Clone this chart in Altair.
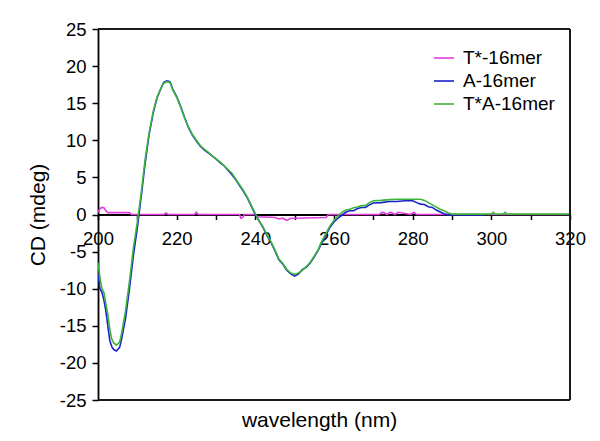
import altair as alt
import pandas as pd

# T*A-16mer (green)
green_nm = [200, 200.5, 201, 201.5, 202, 202.5, 203, 203.5, 204, 204.7, 205.5, 206, 207, 208, 209, 210, 211, 212, 213, 214, 215, 216, 216.7, 217.5, 218.3, 219, 220, 221, 222, 223, 224, 225, 226, 227, 228, 229, 230, 231, 232, 233, 234, 235, 236, 237, 238, 239, 240, 241, 242, 243, 244, 245, 246, 247, 248, 249, 250, 251, 252, 253, 254, 255, 256, 257, 258, 259, 260, 261, 262, 263, 264, 265, 266, 267, 268, 269, 270, 272, 274, 276, 278, 280, 282, 283, 284, 285, 286, 287, 288, 289, 290, 292, 296, 300, 300.5, 301, 303, 303.5, 304, 310, 320]
green_cd = [-6.5, -8.5, -10, -10.5, -12, -13.5, -15.5, -16.8, -17.3, -17.6, -17.2, -16, -13, -9, -4.5, -1, 3, 7.5, 11, 13.8, 15.8, 17, 17.7, 17.9, 17.8, 16.8, 15.8, 14.5, 13, 11.8, 10.8, 10, 9.3, 8.8, 8.4, 7.9, 7.5, 7.1, 6.6, 6.1, 5.6, 4.8, 4.0, 3.2, 2.3, 1.2, 0.1, -0.9, -1.7, -2.8, -3.7, -4.8, -6.0, -6.6, -7.4, -7.9, -8.05, -7.9, -7.5, -7.0, -6.4, -5.6, -4.7, -3.5, -2.5, -1.5, -0.8, -0.2, 0.3, 0.6, 0.7, 0.9, 1.0, 1.2, 1.2, 1.6, 1.85, 1.9, 2.0, 2.05, 2.05, 2.05, 2.05, 1.9, 1.6, 1.3, 1.0, 0.7, 0.5, 0.25, 0.05, 0.05, 0.05, 0.05, 0.3, 0.05, 0.05, 0.3, 0.05, 0.05, 0.05]

# A-16mer (blue)
blue_nm = [200, 200.5, 201, 201.5, 202, 202.5, 203, 203.5, 204, 204.7, 205.5, 206, 207, 208, 209, 210, 211, 212, 213, 214, 215, 216, 216.7, 217.5, 218.3, 219, 220, 221, 222, 223, 224, 225, 226, 227, 228, 229, 230, 231, 232, 233, 234, 235, 236, 237, 238, 239, 240, 241, 242, 243, 244, 245, 246, 247, 248, 249, 250, 251, 252, 253, 254, 255, 256, 257, 258, 259, 260, 261, 262, 263, 264, 265, 266, 267, 268, 269, 270, 272, 274, 276, 278, 280, 281, 282, 283, 284, 285, 286, 287, 288, 289, 292, 298]
blue_cd = [-8, -10, -10.5, -11.5, -13, -15, -17, -17.8, -18.2, -18.4, -17.9, -16.8, -14, -10, -5.5, -1.8, 2.5, 7, 10.8, 13.6, 15.7, 17, 17.8, 18.0, 17.9, 16.9, 15.9, 14.6, 13.1, 11.7, 10.7, 9.9, 9.2, 8.7, 8.3, 7.9, 7.5, 7.0, 6.6, 6.0, 5.4, 4.7, 3.9, 3.1, 2.2, 1.1, 0.0, -0.9, -1.8, -2.9, -3.8, -4.9, -6.1, -6.7, -7.5, -8.0, -8.3, -8.0, -7.4, -7.1, -6.5, -5.7, -4.8, -3.7, -2.7, -1.7, -1.0, -0.5, -0.1, 0.3, 0.5, 0.5, 0.8, 0.95, 0.95, 1.3, 1.55, 1.6, 1.75, 1.75, 1.85, 1.85, 1.6, 1.4, 1.35, 1.05, 0.95, 0.6, 0.35, 0.1, -0.05, -0.05, -0.05]

# T*-16mer (magenta)
mag_nm = [200, 200.5, 201, 201.5, 202, 202.5, 208, 208.5, 216.8, 217.3, 217.8, 224.5, 225, 225.5, 236, 236.3, 236.8, 237.2, 240, 240.5, 245, 246, 247, 248, 249, 250, 258, 258.5, 271.5, 272.3, 273.5, 274.3, 275.5, 276.3, 279.5, 280.3, 281, 320]
mag_cd = [0.3, 0.8, 0.95, 0.9, 0.5, 0.25, 0.25, 0.0, 0.0, 0.2, 0.0, 0.0, 0.3, 0.0, 0.0, -0.5, -0.4, 0.0, 0.0, -0.3, -0.4, -0.6, -0.5, -0.8, -0.5, -0.5, -0.4, 0.0, 0.0, 0.3, 0.0, 0.3, 0.0, 0.3, 0.0, 0.3, 0.0, 0.0]

series = ["T*-16mer", "A-16mer", "T*A-16mer"]
colors = ["#e03ce0", "#1a22cc", "#3cb43c"]

rows = []
for name, xs, ys in [(series[0], mag_nm, mag_cd), (series[1], blue_nm, blue_cd), (series[2], green_nm, green_cd)]:
    for i, (x, y) in enumerate(zip(xs, ys)):
        rows.append({"series": name, "wavelength": x, "cd": y, "idx": i})
df = pd.DataFrame(rows)

font = "Liberation Sans"
x_ticks = list(range(200, 321, 10))
y_ticks = list(range(-25, 26, 5))
W, H = 472, 371
x_scale = alt.Scale(domain=[200, 320], nice=False, zero=False)
y_scale = alt.Scale(domain=[-25, 25], nice=False)

lines = alt.Chart(df).mark_line(strokeWidth=1.6, clip=True).encode(
    x=alt.X("wavelength:Q", scale=x_scale,
            axis=alt.Axis(values=x_ticks, offset=-185.5, grid=False, labelFlush=False,
                          labelExpr="datum.value % 20 == 0 ? datum.label : ''",
                          title="wavelength (nm)", titleX=221, titleY=206, titleBaseline="middle",
                          titleAlign="center", labelPadding=10, tickSize=5, tickColor="black",
                          domainColor="black", domainWidth=1.8, tickWidth=1.5,
                          labelFontSize=18.5, titleFontSize=21, labelFont=font, titleFont=font,
                          labelColor="black", titleColor="black", titleFontWeight="normal",
                          zindex=0)),
    y=alt.Y("cd:Q", scale=y_scale,
            axis=alt.Axis(values=y_ticks, grid=False, title="CD (mdeg)", titleX=-60, titleY=185.5,
                          labelExpr="datum.value + ''", labelFlush=False, labelOverlap=False,
                          titleAlign="center", titleBaseline="middle", titleAngle=-90,
                          tickSize=6, tickColor="black", tickWidth=1.5, domainColor="black", domainWidth=1.8,
                          labelFontSize=18.5, titleFontSize=21, labelFont=font, titleFont=font,
                          labelPadding=6, labelColor="black", titleColor="black", titleFontWeight="normal")),
    color=alt.Color("series:N", scale=alt.Scale(domain=series, range=colors),
                    legend=alt.Legend(title=None, orient="none", legendX=335, legendY=18,
                                      symbolType="stroke", symbolSize=400, symbolStrokeWidth=1.6,
                                      labelFontSize=19, labelFont=font, labelColor="black",
                                      rowPadding=2, labelOffset=8)),
    order="idx:Q",
    detail="series:N",
)

hframe = alt.Chart(pd.DataFrame({"fy": [25, -25]})).mark_rule(color="#1a1a1a", strokeWidth=2).encode(
    y=alt.Y("fy:Q", scale=y_scale, axis=None))
vframe = alt.Chart(pd.DataFrame({"fx": [320]})).mark_rule(color="#1a1a1a", strokeWidth=2).encode(
    x=alt.X("fx:Q", scale=x_scale, axis=None))

chart = alt.layer(lines, hframe, vframe).resolve_axis(x="independent", y="independent").properties(
    width=W, height=H,
    background="white",
    padding={"left": 90, "top": 21, "right": 22, "bottom": 33},
    autosize=alt.AutoSizeParams(type="none"),
).configure_view(stroke=None)

chart.save("out.html", embed_options={"renderer": "svg", "actions": False})
